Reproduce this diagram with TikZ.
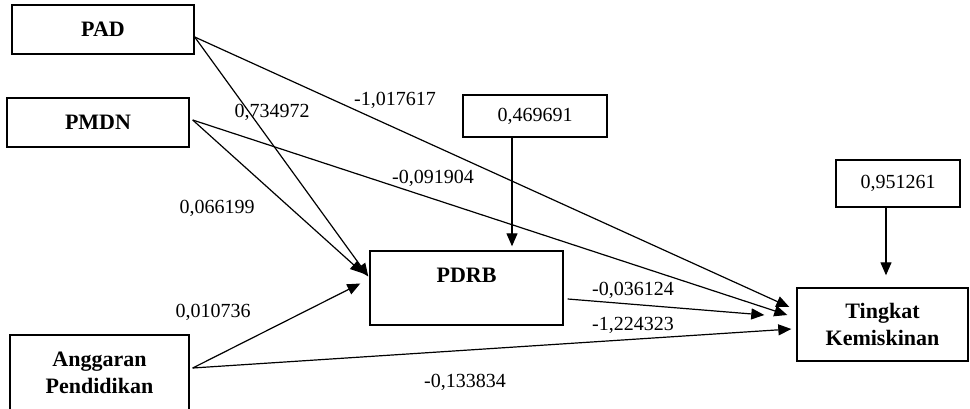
\documentclass[tikz,border=0pt]{standalone}
\usepackage{fontspec}
\setmainfont{Liberation Serif}
\usetikzlibrary{arrows.meta}
\begin{document}
\begin{tikzpicture}[x=1pt,y=-1pt,
  box/.style={draw=black, line width=1.4pt, rectangle, inner sep=0pt, fill=none},
  varbox/.style={box, font=\fontsize{22}{27}\selectfont\bfseries, align=center},
  numbox/.style={box, font=\fontsize{20}{24}\selectfont},
  coef/.style={font=\fontsize{20}{24}\selectfont, inner sep=0pt},
  conn/.style={line width=1.2pt, -{Triangle[length=13pt,width=11pt]}}
]
\fill[white] (0,0) rectangle (970,409);
\useasboundingbox (0,0) rectangle (970,409);

% nodes
\node[varbox, minimum width=182pt, minimum height=49pt] (pad) at (103,29.5) {PAD};
\node[varbox, minimum width=182pt, minimum height=49pt] (pmdn) at (98,122.5) {PMDN};
\node[varbox, minimum width=179pt, minimum height=76pt] (ang) at (99.5,373) {Anggaran\\Pendidikan};
\node[box, font=\fontsize{22}{27}\selectfont\bfseries, minimum width=193pt, text height=31pt, text depth=43pt] (pdrb) at (466.5,288) {PDRB};
\node[varbox, minimum width=171pt, minimum height=73pt] (tk) at (882.5,324.5) {Tingkat\\Kemiskinan};
\node[numbox, minimum width=144pt, minimum height=42pt] (r1) at (535,116) {0,469691};
\node[numbox, minimum width=124pt, minimum height=47pt] (r2) at (898,183.5) {0,951261};

% connectors
\draw[conn] ([yshift=-7.5pt]pad.east) -- ([xshift=-7pt,yshift=17.5pt]tk.west);
\draw[conn] ([yshift=-7.5pt]pad.east) -- ([xshift=-1pt,yshift=11.5pt]pdrb.west);
\draw[conn] ([xshift=3pt,yshift=2.5pt]pmdn.east) -- ([xshift=-9pt,yshift=9.5pt]tk.west);
\draw[conn] ([xshift=3pt,yshift=2.5pt]pmdn.east) -- ([xshift=-6pt,yshift=14.5pt]pdrb.west);
\draw[conn] ([xshift=3pt,yshift=5pt]ang.east) -- ([xshift=-9pt,yshift=4.5pt]pdrb.west);
\draw[conn] ([xshift=3pt,yshift=5pt]ang.east) -- ([xshift=-5pt,yshift=-4.5pt]tk.west);
\draw[conn] ([xshift=4pt,yshift=-11pt]pdrb.east) -- ([xshift=-32pt,yshift=9.5pt]tk.west);
\draw[conn] ([xshift=-23pt]r1.south) -- ([xshift=45.5pt,yshift=4pt]pdrb.north);
\draw[conn] ([xshift=-12pt]r2.south) -- ([xshift=3.5pt,yshift=12pt]tk.north);

% coefficients
\node[coef] (l1) at (395,100) {-1,017617};
\node[coef] (l2) at (272,112) {0,734972};
\node[coef] (l3) at (433,178) {-0,091904};
\node[coef] (l4) at (217,208) {0,066199};
\node[coef] (l5) at (213,312) {0,010736};
\node[coef] (l6) at (633,290) {-0,036124};
\node[coef] (l7) at (633,325) {-1,224323};
\node[coef] (l8) at (465,382) {-0,133834};
\end{tikzpicture}
\end{document}
